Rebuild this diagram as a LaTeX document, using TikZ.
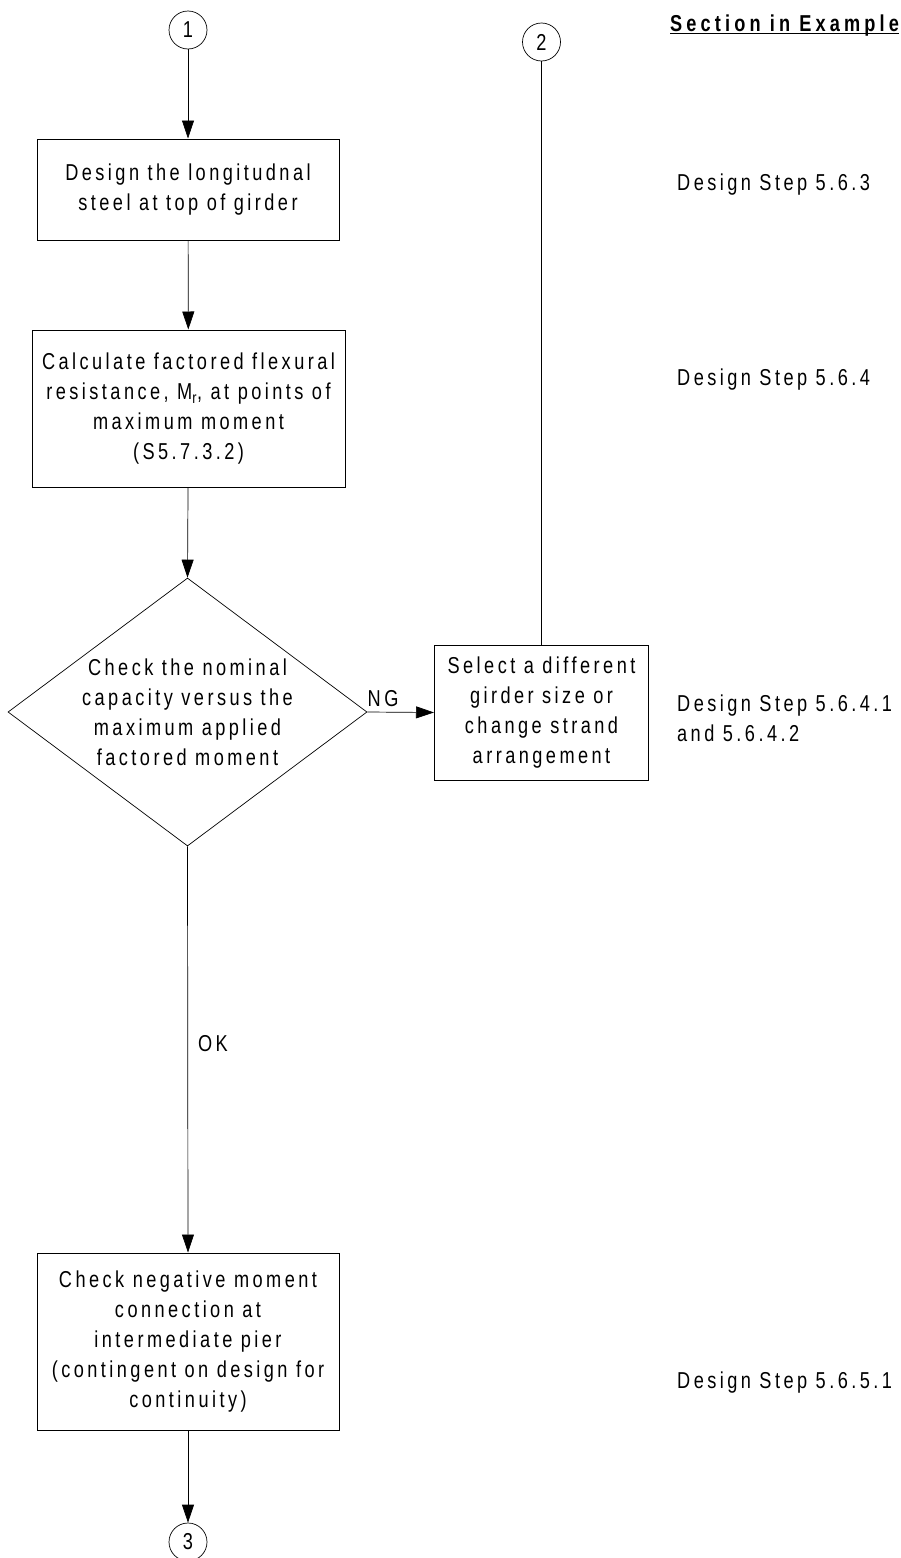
\documentclass[tikz,border=0pt]{standalone}
\usepackage{fontspec}
\setmainfont{Liberation Sans}[FakeStretch=0.79,LetterSpace=15]
\usetikzlibrary{arrows.meta,shapes.geometric}
\begin{document}
\begin{tikzpicture}[x=1pt,y=-1pt,
  txt/.style={font=\fontsize{23}{30}\selectfont},
  box/.style={draw, line width=1pt, rectangle, align=center, inner sep=0pt, txt},
  conn/.style={draw, line width=0.7pt, circle, minimum size=38pt, inner sep=0pt, txt},
  arr/.style={line width=0.7pt, -{Triangle[length=18pt,width=12pt]}},
  plain/.style={line width=0.7pt},
  side/.style={txt, inner sep=0pt, anchor=base west}]
\useasboundingbox (0,0) rectangle (901,1558);
\fill[white] (0,0) rectangle (901,1558);

% connectors (circles)
\node[conn] (c1) at (188,30) {1};
\node[conn] (c2) at (541.5,42) {2};
\node[conn] (c3) at (188,1542) {3};

% boxes
\node[box, minimum width=302pt, minimum height=101pt] (b1) at (188,189.5)
  {Design the longitudnal\\steel at top of girder};
\node[box, minimum width=313pt, minimum height=157pt] (b2) at (188.5,408.5)
  {Calculate factored flexural\\resistance, M\textsubscript{r}, at points of\\maximum moment\\(S5.7.3.2)};
\node[draw, diamond, line width=0.7pt, minimum width=359pt, minimum height=268pt, inner sep=0pt] (d) at (187.5,712) {};
\node[txt, align=center, inner sep=0pt] (dt) at (d.center)
  {Check the nominal\\capacity versus the\\maximum applied\\factored moment};
\node[box, minimum width=214pt, minimum height=135pt] (b3) at (541.5,712.5)
  {Select a different\\girder size or\\change strand\\arrangement};
\node[box, minimum width=302pt, minimum height=177pt] (b4) at (188,1341.5)
  {Check negative moment\\connection at\\intermediate pier\\(contingent on design for\\continuity)};

% flow
\draw[arr] (c1) -- (b1);
\draw[arr] (b1) -- (b2);
\draw[arr] (b2) -- (d.north);
\draw[arr] (d.east) -- node[pos=0, txt, anchor=south west, inner sep=0pt, yshift=5pt] (ng) {NG} (b3.west);
\draw[arr] (d.south) -- node[pos=0.485, txt, anchor=west, inner sep=0pt, xshift=10pt] (ok) {OK} (b4.north);
\draw[arr] (b4) -- (c3);
\draw[plain] (c2) -- (b3.north);

% section column
\node[side, font=\fontsize{23}{30}\selectfont\bfseries\addfontfeature{LetterSpace=18}] (sec) at (670,31) {Section in Example};
\draw[line width=1.6pt] ([yshift=-2.5pt]sec.base west) -- ([yshift=-2.5pt]sec.base east);
\node[side] (s1) at (677,190) {Design Step 5.6.3};
\node[side] (s2) at (677,385) {Design Step 5.6.4};
\node[side] (s3a) at (677,711) {Design Step 5.6.4.1};
\node[side] (s3b) at (677,741) {and 5.6.4.2};
\node[side] (s4) at (677,1388) {Design Step 5.6.5.1};
\end{tikzpicture}
\end{document}
